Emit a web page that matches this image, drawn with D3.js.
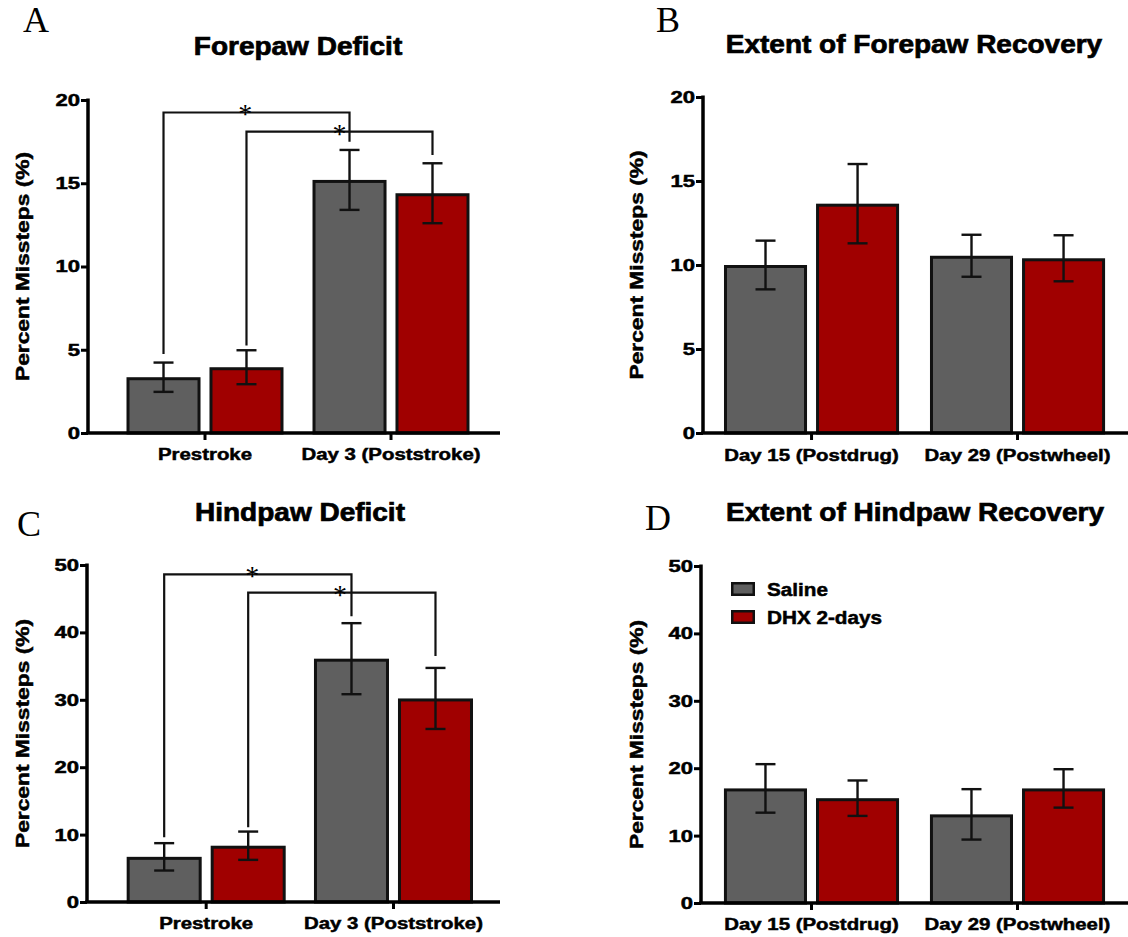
<!DOCTYPE html>
<html>
<head>
<meta charset="utf-8">
<script src="https://cdn.jsdelivr.net/npm/d3@7"></script>
<style>
  body { margin: 0; background: #fff; }
  svg text { font-family: "Liberation Sans", Arial, sans-serif; font-weight: bold; fill: #000; stroke: #000; stroke-width: 0.5px; }
  svg text.serif { stroke: none; }
</style>
</head>
<body>
<svg id="fig" width="1128" height="937"></svg>
<script>
// ---- data ----
var series = ["Saline", "DHX 2-days"];
var deficitCats = ["Prestroke", "Day 3 (Poststroke)"];
var recoveryCats = ["Day 15 (Postdrug)", "Day 29 (Postwheel)"];

// mean percent missteps, [saline, dhx] for each category
var forepawDeficit = [[3.35, 3.95], [15.2, 14.4]];
var forepawDeficitErr = [[0.88, 1.02], [1.8, 1.8]];
var forepawRecovery = [[10.0, 13.65], [10.55, 10.4]];
var forepawRecoveryErr = [[1.45, 2.36], [1.25, 1.37]];
var hindpawDeficit = [[6.7, 8.35], [36.1, 30.2]];
var hindpawDeficitErr = [[2.03, 2.1], [5.27, 4.53]];
var hindpawRecovery = [[17.0, 15.55], [13.15, 17.0]];
var hindpawRecoveryErr = [[3.6, 2.63], [3.74, 2.85]];

var ticks20 = [0, 5, 10, 15, 20];
var ticks50 = [0, 10, 20, 30, 40, 50];

// significance brackets: from/to = [category, series], level and leg ends in %
var forepawBrackets = [
  {from: [0, 0], to: [1, 0], level: 19.25, legs: [4.75, 17.5], star: 0.44},
  {from: [0, 1], to: [1, 1], level: 18.1, legs: [5.25, 16.7], star: 0.5}
];
var hindpawBrackets = [
  {from: [0, 0], to: [1, 0], level: 48.6, legs: [9.6, 42.4], star: 0.47},
  {from: [0, 1], to: [1, 1], level: 45.9, legs: [11.1, 36.5], star: 0.49}
];

var colors = ["#5f5f5f", "#a00000"];
var svg = d3.select("#fig");

function drawPanel(p) {
  var g = svg.append("g");

  var y = d3.scaleLinear().domain([0, p.yMax]).range([p.bottom, p.top]);
  var x0 = d3.scaleBand().domain(p.cats).range([p.left, p.right])
      .paddingInner(p.pIn).paddingOuter(p.pOut).align(p.align);
  var x1 = d3.scaleBand().domain(series).range([0, x0.bandwidth()]).paddingInner(p.barPad);
  var color = d3.scaleOrdinal().domain(series).range(colors);

  var rows = [];
  p.cats.forEach(function(c, i) {
    series.forEach(function(s, j) {
      rows.push({cat: c, ser: s, v: p.means[i][j], e: p.errs[i][j]});
    });
  });
  var cx = function(d) { return x0(d.cat) + x1(d.ser) + x1.bandwidth() / 2; };

  // bars
  g.selectAll("rect.bar").data(rows).enter().append("rect")
      .attr("class", "bar")
      .attr("x", function(d) { return x0(d.cat) + x1(d.ser) + 1.5; })
      .attr("y", function(d) { return y(d.v) + 1.5; })
      .attr("width", x1.bandwidth() - 3)
      .attr("height", function(d) { return y(0) - y(d.v) - 1.5; })
      .style("fill", function(d) { return color(d.ser); })
      .style("stroke", "#111")
      .style("stroke-width", 3);

  // error bars
  var eb = g.selectAll("g.err").data(rows).enter().append("g").attr("class", "err")
      .style("stroke", "#111").style("stroke-width", 2.4);
  eb.append("line")
      .attr("x1", cx).attr("x2", cx)
      .attr("y1", function(d) { return y(d.v - d.e); })
      .attr("y2", function(d) { return y(d.v + d.e); });
  [-1, 1].forEach(function(sgn) {
    eb.append("line")
        .attr("x1", function(d) { return cx(d) - 10; })
        .attr("x2", function(d) { return cx(d) + 10; })
        .attr("y1", function(d) { return y(d.v + sgn * d.e); })
        .attr("y2", function(d) { return y(d.v + sgn * d.e); });
  });

  // brackets + stars
  (p.brackets || []).forEach(function(b) {
    var xa = x0(p.cats[b.from[0]]) + x1(series[b.from[1]]) + x1.bandwidth() / 2;
    var xb = x0(p.cats[b.to[0]]) + x1(series[b.to[1]]) + x1.bandwidth() / 2;
    g.append("path")
        .attr("d", "M" + xa + "," + y(b.legs[0]) + "V" + y(b.level) + "H" + xb + "V" + y(b.legs[1]))
        .style("fill", "none").style("stroke", "#111").style("stroke-width", 2.2);
    g.append("text")
        .attr("class", "serif")
        .attr("x", xa + (xb - xa) * b.star)
        .attr("y", y(b.level) + 11)
        .attr("text-anchor", "middle")
        .style("font-family", "'Liberation Serif', 'Times New Roman', serif")
        .style("font-weight", "normal")
        .style("font-size", "28px")
        .text("*");
  });

  // y axis
  var yAxis = g.append("g")
      .attr("transform", "translate(" + p.left + ",0)")
      .call(d3.axisLeft(y).tickValues(p.yTicks).tickSize(7).tickSizeOuter(0));
  yAxis.select(".domain").attr("d", "M0," + (y(p.yMax) - 1.5) + "V" + y(0))
      .style("stroke", "#000").style("stroke-width", 3.5);
  yAxis.selectAll(".tick line").style("stroke", "#000").style("stroke-width", 3);
  yAxis.selectAll(".tick text")
      .attr("x", -8 / 1.3)
      .attr("transform", "scale(1.3,1)")
      .style("font-size", "17px")
      .style("font-family", null);

  // x axis
  var xAxis = g.append("g")
      .attr("transform", "translate(0," + p.bottom + ")")
      .call(d3.axisBottom(x0).tickSize(7).tickSizeOuter(0));
  xAxis.select(".domain").attr("d", "M" + (p.left - 1.75) + ",0H" + p.right)
      .style("stroke", "#000").style("stroke-width", 3.5);
  xAxis.selectAll(".tick line").style("stroke", "#000").style("stroke-width", 3);
  xAxis.selectAll(".tick text")
      .attr("y", p.labelDy).attr("dy", null)
      .attr("transform", "scale(1.2,1)")
      .style("font-size", "17px")
      .style("font-family", null);

  // y label
  g.append("text")
      .attr("transform", "translate(" + p.ylabX + "," + (p.top + p.bottom) / 2 + ") rotate(-90) scale(1.2,1)")
      .attr("text-anchor", "middle")
      .style("font-size", "19px")
      .text("Percent Missteps (%)");

  // title
  g.append("text")
      .attr("transform", "translate(" + p.titleX + "," + p.titleY + ") scale(1.12,1)")
      .attr("text-anchor", "middle")
      .style("font-size", "25px")
      .style("stroke-width", "0.7px")
      .text(p.title);

  // panel letter
  g.append("text")
      .attr("class", "serif")
      .attr("x", p.letterX).attr("y", p.letterY)
      .style("font-family", "'Liberation Serif', 'Times New Roman', serif")
      .style("font-weight", "normal")
      .style("font-size", "36px")
      .text(p.letter);

  // legend
  if (p.legend) {
    var lg = g.append("g").attr("transform", "translate(" + p.legend[0] + "," + p.legend[1] + ")");
    series.forEach(function(s, i) {
      lg.append("rect")
          .attr("x", 1.25).attr("y", 28 * i + 1.25)
          .attr("width", 21.5).attr("height", 11.5)
          .style("fill", color(s)).style("stroke", "#111").style("stroke-width", 2.5);
      lg.append("text")
          .attr("transform", "translate(36," + (28 * i + 13.5) + ") scale(1.12,1)")
          .style("font-size", "18.5px")
          .text(s);
    });
  }
}

drawPanel({letter: "A", title: "Forepaw Deficit", cats: deficitCats,
  means: forepawDeficit, errs: forepawDeficitErr, brackets: forepawBrackets,
  yMax: 20, yTicks: ticks20, left: 88, right: 500, top: 100, bottom: 433,
  pIn: 0.156, pOut: 0.1855, align: 0.558, barPad: 0.108,
  titleX: 298, titleY: 55, letterX: 23, letterY: 32, ylabX: 29, labelDy: 27});

drawPanel({letter: "B", title: "Extent of Forepaw Recovery", cats: recoveryCats,
  means: forepawRecovery, errs: forepawRecoveryErr,
  yMax: 20, yTicks: ticks20, left: 703, right: 1128, top: 97, bottom: 433,
  pIn: 0.15, pOut: 0.1066, align: 0.478, barPad: 0.098,
  titleX: 914, titleY: 53, letterX: 656, letterY: 32, ylabX: 643, labelDy: 28});

drawPanel({letter: "C", title: "Hindpaw Deficit", cats: deficitCats,
  means: hindpawDeficit, errs: hindpawDeficitErr, brackets: hindpawBrackets,
  yMax: 50, yTicks: ticks50, left: 87, right: 500, top: 565, bottom: 902,
  pIn: 0.151, pOut: 0.178, align: 0.595, barPad: 0.107,
  titleX: 300, titleY: 521, letterX: 17, letterY: 536, ylabX: 29, labelDy: 27});

drawPanel({letter: "D", title: "Extent of Hindpaw Recovery", cats: recoveryCats,
  means: hindpawRecovery, errs: hindpawRecoveryErr,
  yMax: 50, yTicks: ticks50, left: 701, right: 1128, top: 566, bottom: 903,
  pIn: 0.15, pOut: 0.1114, align: 0.5, barPad: 0.098,
  titleX: 915, titleY: 521, letterX: 645, letterY: 530, ylabX: 643, labelDy: 27,
  legend: [731, 582]});
</script>
</body>
</html>
